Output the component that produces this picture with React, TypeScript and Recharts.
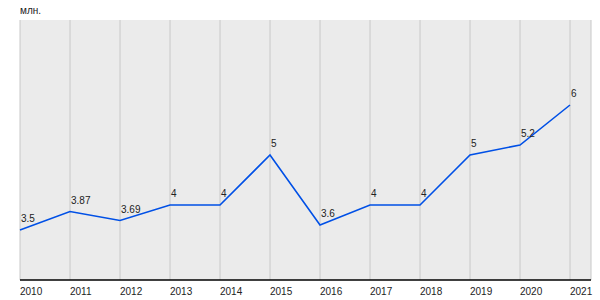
import { LineChart, Line, XAxis, YAxis, CartesianGrid, LabelList } from 'recharts';

const years = ['2010', '2011', '2012', '2013', '2014', '2015', '2016', '2017', '2018', '2019', '2020', '2021'];
const values = [3.5, 3.87, 3.69, 4, 4, 5, 3.6, 4, 4, 5, 5.2, 6];

const data = years.map((year, i) => ({ year, value: values[i] }));

const font = 'Arial, "Liberation Sans", sans-serif';

function YearTick(props: any) {
  const { x, y, payload } = props;
  return (
    <text x={x} y={y + 7} textAnchor="start" fontSize={10} fontFamily={font} fill="#222">
      {payload.value}
    </text>
  );
}

function PointLabel(props: any) {
  const { x, y, value } = props;
  return (
    <text x={x + 1} y={y - 8} textAnchor="start" fontSize={10} fontFamily={font} fill="#222">
      {value}
    </text>
  );
}

export default function App() {
  return (
    <div style={{ position: 'absolute', left: 0, top: 0, width: 600, height: 300, background: '#fff' }}>
      <LineChart width={600} height={300} data={data} margin={{ top: 20, right: 9, bottom: 0, left: 20 }}>
        <CartesianGrid horizontal={false} stroke="#c8c8c8" fill="#ebebeb" />
        <XAxis
          dataKey="year"
          height={20}
          padding={{ left: 0, right: 21 }}
          axisLine={{ stroke: '#000', strokeWidth: 1.5 }}
          tickLine={false}
          tick={<YearTick />}
          interval={0}
        />
        <YAxis
          width={0}
          domain={[2.5, 7.7]}
          allowDataOverflow
          tick={false}
          tickLine={false}
          axisLine={{ stroke: '#000', strokeWidth: 1.5 }}
        />
        <Line
          type="linear"
          dataKey="value"
          stroke="#0050e6"
          strokeWidth={1.6}
          dot={false}
          isAnimationActive={false}
        >
          <LabelList dataKey="value" content={<PointLabel />} />
        </Line>
      </LineChart>
      <div style={{ position: 'absolute', left: 20, top: 5, fontSize: 10, fontFamily: font, color: '#222' }}>млн.</div>
    </div>
  );
}
